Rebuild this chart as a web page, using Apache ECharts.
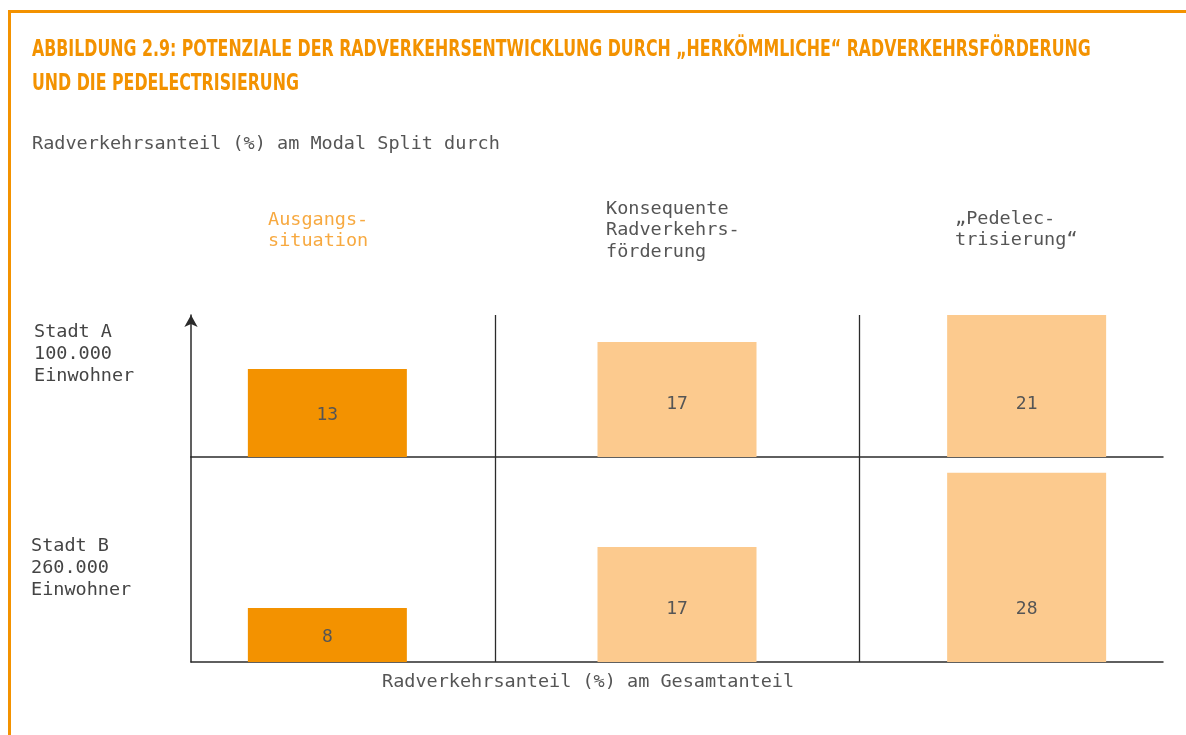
<!DOCTYPE html>
<html>
<head>
<meta charset="utf-8">
<script src="https://cdn.jsdelivr.net/npm/echarts@6/dist/echarts.min.js"></script>
<style>
  html, body { margin: 0; padding: 0; background: #fff; }
  #frame {
    position: absolute; left: 8px; top: 10px; width: 1175px; height: 725px;
    border-top: 3px solid #f39200; border-left: 3px solid #f39200;
  }
  #chart { position: absolute; left: 0; top: 0; width: 1186px; height: 735px; }
</style>
</head>
<body>
<div id="frame"></div>
<div id="chart"></div>
<script>
// Radverkehrsanteil (%) je Stadt und Szenario
var scenarios = ['Ausgangs-\nsituation', 'Konsequente\nRadverkehrs-\nförderung', '„Pedelec-\ntrisierung“']
var cities = ['Stadt A\n100.000\nEinwohner', 'Stadt B\n260.000\nEinwohner']
var stadtA = [13, 17, 21]
var stadtB = [8, 17, 28]
// Trennlinien zwischen den Spalten (x-Achsenwert)
var columnDividers = [0.485, 1.518]

var mono = '"DejaVu Sans Mono", monospace'
var barColors = ['#f39200', '#fcca8e', '#fcca8e']
var lineColor = '#2b2b2b'
var pxPerUnit = 142 / 21

var chart = echarts.init(document.getElementById('chart'))

function barSeries(values, gridIndex) {
  return {
    type: 'bar',
    xAxisIndex: gridIndex,
    yAxisIndex: gridIndex,
    barWidth: 159,
    clip: false,
    silent: true,
    data: values.map(function (v, i) {
      var h = v * pxPerUnit
      return {
        value: [i, v],
        label: { distance: Math.min(h / 2 - 11, 44) }
      }
    }),
    itemStyle: {
      color: function (p) { return barColors[p.dataIndex] }
    },
    label: {
      show: true,
      position: 'insideBottom',
      formatter: function (p) { return p.value[1] },
      fontFamily: mono,
      fontSize: 18,
      color: '#555'
    },
    markLine: {
      silent: true,
      symbol: 'none',
      label: { show: false },
      animation: false,
      lineStyle: { type: 'solid', color: lineColor, width: 1.3 },
      data: columnDividers.map(function (x) { return { xAxis: x } })
    }
  }
}

function xAxisFor(gridIndex) {
  return {
    type: 'value',
    gridIndex: gridIndex,
    min: -0.39,
    max: 2.39,
    axisLine: { show: true, onZero: false, lineStyle: { color: lineColor, width: 1.5 } },
    axisTick: { show: false },
    axisLabel: { show: false },
    splitLine: { show: false }
  }
}

function yAxisFor(gridIndex, max, arrow) {
  return {
    type: 'value',
    gridIndex: gridIndex,
    min: 0,
    max: max,
    axisLine: {
      show: true,
      onZero: false,
      symbol: arrow ? ['none', 'arrow'] : 'none',
      symbolSize: [10, 12],
      lineStyle: { color: lineColor, width: 1.5 }
    },
    axisTick: { show: false },
    axisLabel: { show: false },
    splitLine: { show: false }
  }
}

var headerLeft = [268, 606, 955]
var headerTop = [209, 198, 208]

function plainText(text, left, top, extra) {
  return {
    text: text, left: left, top: top, padding: 0,
    textStyle: Object.assign({ fontFamily: mono, fontWeight: 'normal', fontSize: 18.5, color: '#555' }, extra || {})
  }
}

var titleFont = 'bold 23px "DejaVu Sans Condensed", "Liberation Sans Narrow", sans-serif'

chart.setOption({
  animation: false,
  graphic: [
    {
      type: 'text', left: 32, top: 39, scaleX: 0.764, silent: true,
      style: { text: 'ABBILDUNG 2.9: POTENZIALE DER RADVERKEHRSENTWICKLUNG DURCH „HERKÖMMLICHE“ RADVERKEHRSFÖRDERUNG', font: titleFont, fill: '#f39200' }
    },
    {
      type: 'text', left: 32, top: 73, scaleX: 0.764, silent: true,
      style: { text: 'UND DIE PEDELECTRISIERUNG', font: titleFont, fill: '#f39200' }
    }
  ],
  title: [
    plainText('Radverkehrsanteil (%) am Modal Split durch', 32, 135),
    plainText('Radverkehrsanteil (%) am Gesamtanteil', 382, 673)
  ].concat(scenarios.map(function (s, i) {
    return plainText(s, headerLeft[i], headerTop[i], { lineHeight: 21.5, color: i === 0 ? '#f7a940' : '#555' })
  })).concat(cities.map(function (c, i) {
    return plainText(c, i === 0 ? 34 : 31, i === 0 ? 321 : 535, { lineHeight: 22, color: '#444' })
  })),
  grid: [
    { left: 191, right: 23, top: 315, height: 142 },
    { left: 191, right: 23, top: 457, height: 205 }
  ],
  xAxis: [xAxisFor(0), xAxisFor(1)],
  yAxis: [yAxisFor(0, 21, true), yAxisFor(1, 205 / pxPerUnit, false)],
  series: [barSeries(stadtA, 0), barSeries(stadtB, 1)]
})
</script>
</body>
</html>
